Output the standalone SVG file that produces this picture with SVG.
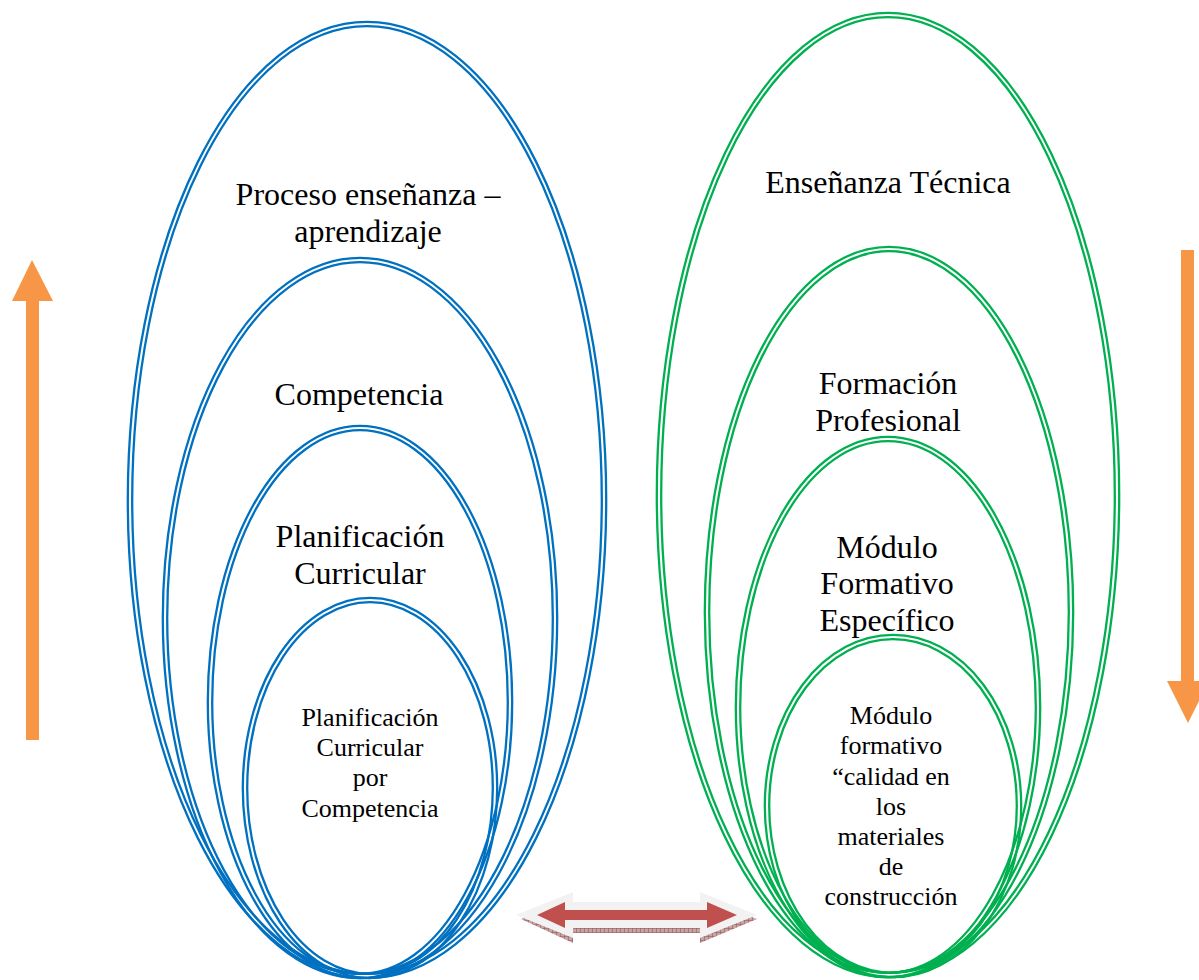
<svg xmlns="http://www.w3.org/2000/svg" width="1199" height="980" viewBox="0 0 1199 980">
  <style>
    .ln { fill: none; stroke-width: 2.3; }
    .blue { stroke: #0070c0; }
    .green { stroke: #00b050; }
    .big { font-family: "Liberation Serif", "Times New Roman", serif; font-size: 32px; fill: #000; text-anchor: middle; }
    .small { font-family: "Liberation Serif", "Times New Roman", serif; font-size: 26px; fill: #000; text-anchor: middle; }
    .orange { fill: #f79646; }
  </style>
  <defs>
    <pattern id="hatch" width="4" height="4" patternUnits="userSpaceOnUse">
      <rect width="4" height="4" fill="#c9a3a3"/>
      <path d="M0 0 H4 M0 0 V4" stroke="#8e5151" stroke-width="1"/>
    </pattern>
  </defs>

  <rect width="1199" height="980" fill="#ffffff"/>

  <!-- blue nested ellipses -->
  <g id="proceso">
    <ellipse class="ln blue" cx="367" cy="500" rx="239.2" ry="478.2"/>
    <ellipse class="ln blue" cx="367" cy="500" rx="234.8" ry="473.8"/>
    <text class="big" x="368" y="205">Proceso enseñanza –</text>
    <text class="big" x="368" y="242">aprendizaje</text>
  </g>
  <g id="competencia">
    <ellipse class="ln blue" cx="360" cy="618" rx="197.2" ry="360.2"/>
    <ellipse class="ln blue" cx="360" cy="618" rx="192.8" ry="355.8"/>
    <text class="big" x="359" y="405">Competencia</text>
  </g>
  <g id="planificacion">
    <ellipse class="ln blue" cx="360" cy="702" rx="152.2" ry="276.2"/>
    <ellipse class="ln blue" cx="360" cy="702" rx="147.8" ry="271.8"/>
    <text class="big" x="360" y="547">Planificación</text>
    <text class="big" x="360" y="584">Curricular</text>
  </g>
  <g id="planificacion-competencia">
    <ellipse class="ln blue" cx="370" cy="788" rx="127.2" ry="190.2"/>
    <ellipse class="ln blue" cx="370" cy="788" rx="122.8" ry="185.8"/>
    <text class="small" x="370" y="726">Planificación</text>
    <text class="small" x="370" y="756">Curricular</text>
    <text class="small" x="370" y="786">por</text>
    <text class="small" x="370" y="817">Competencia</text>
  </g>

  <!-- green nested ellipses -->
  <g id="ensenanza-tecnica">
    <ellipse class="ln green" cx="888" cy="495" rx="231.2" ry="482.2"/>
    <ellipse class="ln green" cx="888" cy="495" rx="226.8" ry="477.8"/>
    <text class="big" x="888" y="193">Enseñanza Técnica</text>
  </g>
  <g id="formacion-profesional">
    <ellipse class="ln green" cx="889" cy="612" rx="184.2" ry="365.2"/>
    <ellipse class="ln green" cx="889" cy="612" rx="179.8" ry="360.8"/>
    <text class="big" x="888" y="394">Formación</text>
    <text class="big" x="888" y="431">Profesional</text>
  </g>
  <g id="modulo-especifico">
    <ellipse class="ln green" cx="888" cy="707" rx="152.2" ry="270.2"/>
    <ellipse class="ln green" cx="888" cy="707" rx="147.8" ry="265.8"/>
    <text class="big" x="887" y="558">Módulo</text>
    <text class="big" x="887" y="594">Formativo</text>
    <text class="big" x="887" y="631">Específico</text>
  </g>
  <g id="modulo-calidad">
    <ellipse class="ln green" cx="893" cy="806" rx="128.2" ry="171.2"/>
    <ellipse class="ln green" cx="893" cy="806" rx="123.8" ry="166.8"/>
    <text class="small" x="891" y="724">Módulo</text>
    <text class="small" x="891" y="754">formativo</text>
    <text class="small" x="891" y="785">“calidad en</text>
    <text class="small" x="891" y="815">los</text>
    <text class="small" x="891" y="845">materiales</text>
    <text class="small" x="891" y="875">de</text>
    <text class="small" x="891" y="905">construcción</text>
  </g>

  <!-- arrows -->
  <g id="arrows">
    <!-- upward arrow, left -->
    <polygon class="orange" points="32,260 53,301 39,301 39,740 26,740 26,301 12,301"/>
    <!-- downward arrow, right -->
    <polygon class="orange" points="1181,250 1194,250 1194,681 1209,681 1188,723 1167,681 1181,681"/>
    <!-- two-way arrow between the groups -->
    <polygon fill="url(#hatch)" points="521,919 573,896 573,906 700,906 700,896 757,919 700,943 700,933 573,933 573,943"/>
    <polygon fill="#f2f2f2" points="516,915 573,892 573,902 700,902 700,892 757,915 700,938 700,928 573,928 573,938"/>
    <polygon fill="#c0504d" points="537,915 565,902 565,910 707,910 707,902 737,915 707,928 707,920 565,920 565,928"/>
  </g>
</svg>
